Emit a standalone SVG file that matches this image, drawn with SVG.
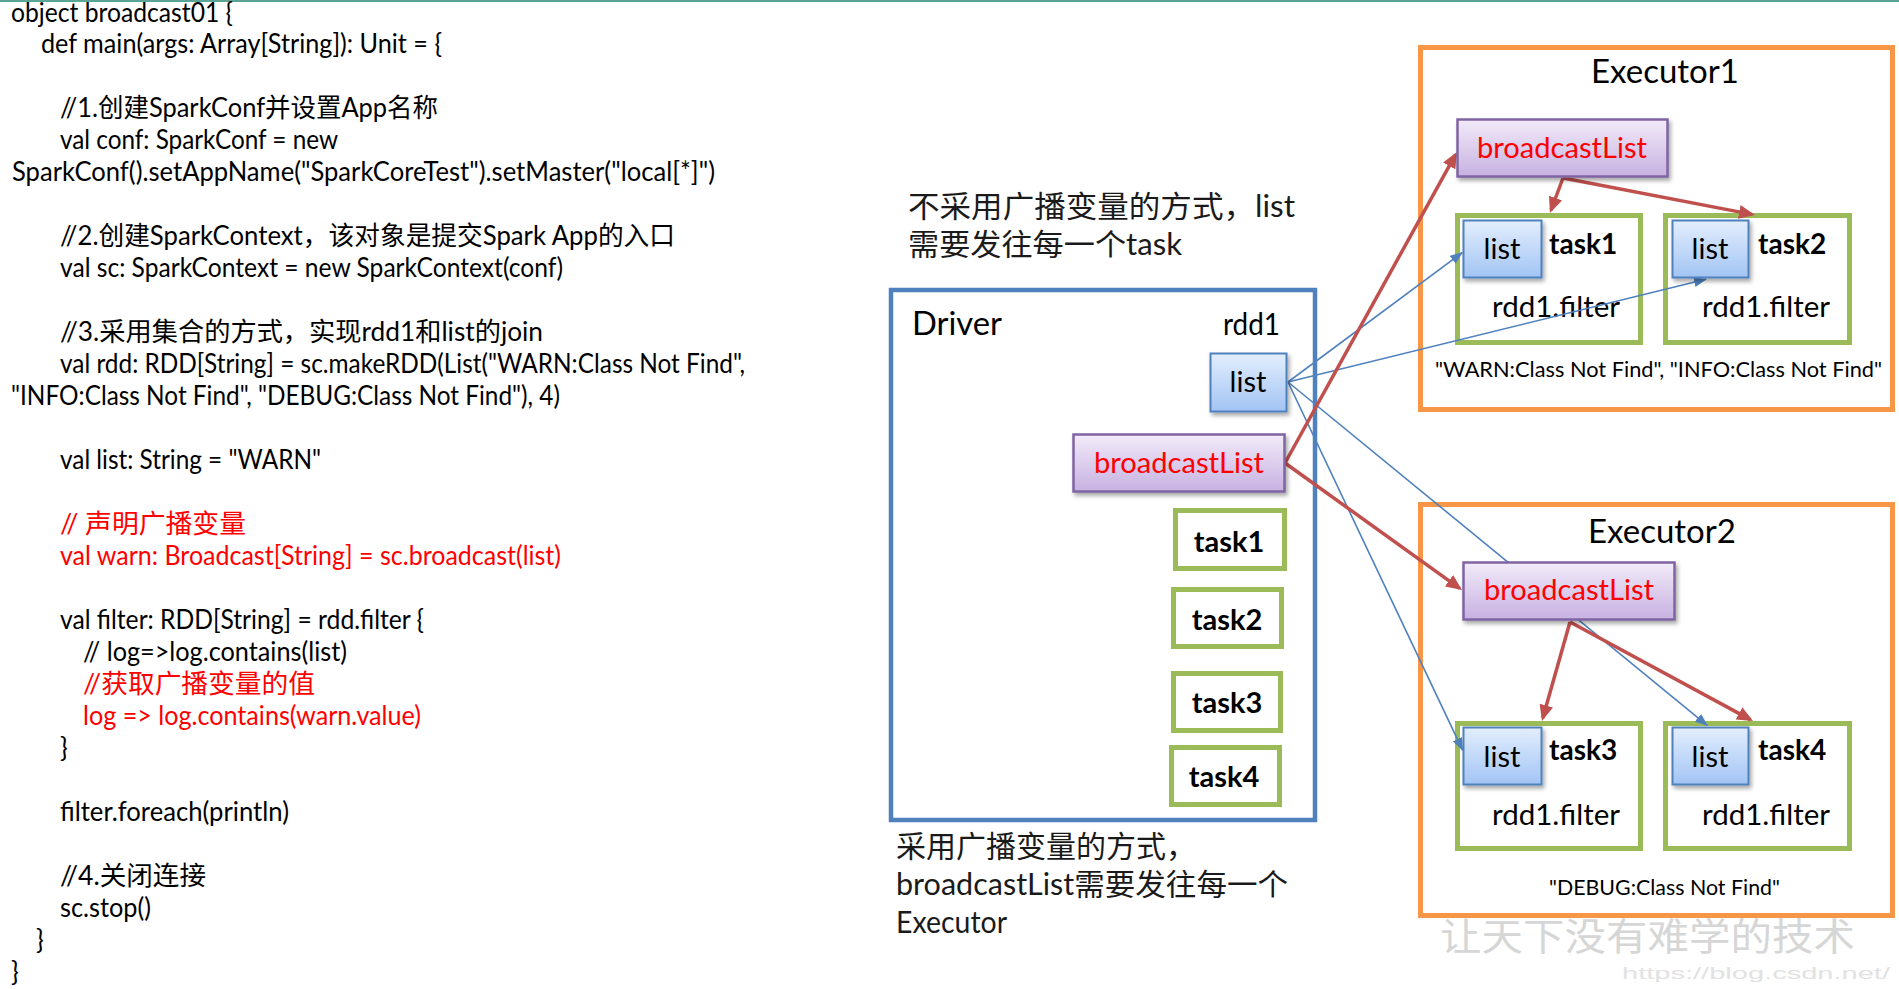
<svg xmlns="http://www.w3.org/2000/svg" width="1899" height="989" viewBox="0 0 1899 989">
<style>
.code{font-family:Lato,"Noto Sans CJK SC",sans-serif;font-size:26px;fill:#000}
.t{font-family:Lato,"Noto Sans CJK SC",sans-serif;fill:#000}
.red{fill:#ff0000}
.note{font-family:Lato,"Noto Sans CJK SC",sans-serif;font-size:30px;fill:#1a1a1a}
.drv{fill:none;stroke:#4F81BD;stroke-width:4.5}
.exe{fill:none;stroke:#F79646;stroke-width:5}
.task{fill:#fff;stroke:#9BBB59;stroke-width:5}
.list{fill:url(#gList);stroke:#4F81BD;stroke-width:2;filter:url(#sh)}
.bc{fill:url(#gBc);stroke:#8064A2;stroke-width:2.5;filter:url(#sh)}
.rl{fill:none;stroke:#C0504D;stroke-width:3.5;marker-end:url(#aR)}
.bl{fill:none;stroke:#4F81BD;stroke-width:1.6;marker-end:url(#aB)}
</style>
<defs>
<linearGradient id="gList" x1="0" y1="0" x2="0" y2="1"><stop offset="0" stop-color="#e3eefd"/><stop offset="1" stop-color="#a2c4f4"/></linearGradient>
<linearGradient id="gBc" x1="0" y1="0" x2="0" y2="1"><stop offset="0" stop-color="#f2ebf9"/><stop offset="1" stop-color="#c7b1e1"/></linearGradient>
<filter id="sh" x="-10%" y="-20%" width="130%" height="150%"><feDropShadow dx="2" dy="3" stdDeviation="2" flood-color="#000" flood-opacity="0.35"/></filter>
<marker id="aR" viewBox="0 0 16 14" refX="13" refY="7" markerWidth="16" markerHeight="14" markerUnits="userSpaceOnUse" orient="auto"><path d="M0,0 L16,7 L0,14 Z" fill="#C0504D"/></marker>
<marker id="aB" viewBox="0 0 13 10" refX="12" refY="5" markerWidth="13" markerHeight="10" markerUnits="userSpaceOnUse" orient="auto"><path d="M0,0 L13,5 L0,10 Z" fill="#4F81BD"/></marker>
</defs>
<rect x="0" y="0" width="1899" height="989" fill="#fff"/>
<rect x="0" y="0" width="1899" height="2" fill="#5ba596"/>

<g id="code">
<text class="code" x="11" y="22" textLength="222" lengthAdjust="spacingAndGlyphs">object broadcast01 {</text>
<text class="code" x="41" y="53" textLength="401" lengthAdjust="spacingAndGlyphs">def main(args: Array[String]): Unit = {</text>
<text class="code" x="60" y="117" textLength="378" lengthAdjust="spacingAndGlyphs">//1.创建SparkConf并设置App名称</text>
<text class="code" x="60" y="149" textLength="278" lengthAdjust="spacingAndGlyphs">val conf: SparkConf = new</text>
<text class="code" x="12" y="181" textLength="703" lengthAdjust="spacingAndGlyphs">SparkConf().setAppName("SparkCoreTest").setMaster("local[*]")</text>
<text class="code" x="60" y="245" textLength="615" lengthAdjust="spacingAndGlyphs">//2.创建SparkContext，该对象是提交Spark App的入口</text>
<text class="code" x="60" y="277" textLength="503" lengthAdjust="spacingAndGlyphs">val sc: SparkContext = new SparkContext(conf)</text>
<text class="code" x="60" y="341" textLength="483" lengthAdjust="spacingAndGlyphs">//3.采用集合的方式，实现rdd1和list的join</text>
<text class="code" x="60" y="373" textLength="685" lengthAdjust="spacingAndGlyphs">val rdd: RDD[String] = sc.makeRDD(List("WARN:Class Not Find",</text>
<text class="code" x="11" y="405" textLength="549" lengthAdjust="spacingAndGlyphs">"INFO:Class Not Find", "DEBUG:Class Not Find"), 4)</text>
<text class="code" x="60" y="469" textLength="261" lengthAdjust="spacingAndGlyphs">val list: String = "WARN"</text>
<text class="code red" x="60" y="533" textLength="186" lengthAdjust="spacingAndGlyphs">// 声明广播变量</text>
<text class="code red" x="60" y="565" textLength="501" lengthAdjust="spacingAndGlyphs">val warn: Broadcast[String] = sc.broadcast(list)</text>
<text class="code" x="60" y="629" textLength="364" lengthAdjust="spacingAndGlyphs">val filter: RDD[String] = rdd.filter {</text>
<text class="code" x="83" y="661" textLength="264" lengthAdjust="spacingAndGlyphs">// log=&gt;log.contains(list)</text>
<text class="code red" x="83" y="693" textLength="232" lengthAdjust="spacingAndGlyphs">//获取广播变量的值</text>
<text class="code red" x="83" y="725" textLength="338" lengthAdjust="spacingAndGlyphs">log =&gt; log.contains(warn.value)</text>
<text class="code" x="60" y="757">}</text>
<text class="code" x="60" y="821" textLength="229" lengthAdjust="spacingAndGlyphs">filter.foreach(println)</text>
<text class="code" x="60" y="885" textLength="146" lengthAdjust="spacingAndGlyphs">//4.关闭连接</text>
<text class="code" x="60" y="917" textLength="91" lengthAdjust="spacingAndGlyphs">sc.stop()</text>
<text class="code" x="36" y="949">}</text>
<text class="code" x="11" y="981">}</text>
</g>

<g id="notes">
<text class="note" x="908" y="217" font-size="31" textLength="387" lengthAdjust="spacingAndGlyphs">不采用广播变量的方式，list</text>
<text class="note" x="908" y="255" font-size="31" textLength="274" lengthAdjust="spacingAndGlyphs">需要发往每一个task</text>
<text class="note" x="896" y="857" textLength="300" lengthAdjust="spacingAndGlyphs">采用广播变量的方式，</text>
<text class="note" x="896" y="895" textLength="392" lengthAdjust="spacingAndGlyphs">broadcastList需要发往每一个</text>
<text class="note" x="896" y="933" textLength="111" lengthAdjust="spacingAndGlyphs">Executor</text>
</g>

<g id="driver">
<rect class="drv" x="891" y="290" width="424" height="530"/>
<text class="t" x="912" y="335" font-size="32" textLength="90" lengthAdjust="spacingAndGlyphs">Driver</text>
<text class="t" x="1223" y="335" font-size="30" textLength="57" lengthAdjust="spacingAndGlyphs">rdd1</text>
</g>
<g id="driver-task1"><rect class="task" x="1175.5" y="510.5" width="109" height="58"/><text class="t" x="1229" y="552" font-size="29" font-weight="bold" text-anchor="middle">task1</text></g>
<g id="driver-task2"><rect class="task" x="1173.5" y="589.5" width="108" height="57"/><text class="t" x="1227" y="630" font-size="29" font-weight="bold" text-anchor="middle">task2</text></g>
<g id="driver-task3"><rect class="task" x="1173.5" y="673.5" width="107" height="57"/><text class="t" x="1227" y="713" font-size="29" font-weight="bold" text-anchor="middle">task3</text></g>
<g id="driver-task4"><rect class="task" x="1171.5" y="747.5" width="108" height="57"/><text class="t" x="1224" y="787" font-size="29" font-weight="bold" text-anchor="middle">task4</text></g>

<g id="executor1">
<rect class="exe" x="1420.5" y="47.5" width="472" height="362"/>
<text class="t" x="1665" y="83" font-size="33" text-anchor="middle" textLength="148" lengthAdjust="spacingAndGlyphs">Executor1</text>
<text class="t" x="1435" y="377" font-size="22" textLength="447" lengthAdjust="spacingAndGlyphs">"WARN:Class Not Find", "INFO:Class Not Find"</text>
</g>
<g id="e1-task1"><rect class="task" x="1457.5" y="215.5" width="183" height="127"/><text class="t" x="1549" y="254" font-size="28" font-weight="bold">task1</text><text class="t" x="1492" y="317" font-size="29" textLength="128" lengthAdjust="spacingAndGlyphs">rdd1.filter</text></g>
<g id="e1-task2"><rect class="task" x="1665.5" y="215.5" width="184" height="127"/><text class="t" x="1758" y="254" font-size="28" font-weight="bold">task2</text><text class="t" x="1702" y="317" font-size="29" textLength="128" lengthAdjust="spacingAndGlyphs">rdd1.filter</text></g>

<g id="executor2">
<rect class="exe" x="1420.5" y="504.5" width="472" height="411"/>
<text class="t" x="1662" y="543" font-size="33" text-anchor="middle" textLength="148" lengthAdjust="spacingAndGlyphs">Executor2</text>
<text class="t" x="1549" y="895" font-size="22" textLength="231" lengthAdjust="spacingAndGlyphs">"DEBUG:Class Not Find"</text>
</g>
<g id="e2-task3"><rect class="task" x="1457.5" y="723.5" width="183" height="125"/><text class="t" x="1549" y="760" font-size="28" font-weight="bold">task3</text><text class="t" x="1492" y="825" font-size="29" textLength="128" lengthAdjust="spacingAndGlyphs">rdd1.filter</text></g>
<g id="e2-task4"><rect class="task" x="1665.5" y="723.5" width="184" height="125"/><text class="t" x="1758" y="760" font-size="28" font-weight="bold">task4</text><text class="t" x="1702" y="825" font-size="29" textLength="128" lengthAdjust="spacingAndGlyphs">rdd1.filter</text></g>

<g id="connectors">
<path class="bl" d="M1288,382 L1462.2,252.6"/>
<path class="bl" d="M1288,382 L1706,279.2"/>
<path class="bl" d="M1288,382 L1707.2,725.4"/>
<path class="bl" d="M1288,382 L1462.6,750.1"/>
<path class="rl" d="M1285,463 L1455.5,154.6"/>
<path class="rl" d="M1285,463 L1459.6,588.3"/>
<path class="rl" d="M1563,178 L1551,210.2"/>
<path class="rl" d="M1563,178 L1752,214.4"/>
<path class="rl" d="M1570,622 L1542.8,718.1"/>
<path class="rl" d="M1570,622 L1750.4,719.6"/>
</g>

<g id="driver-list"><rect class="list" x="1210.5" y="353.5" width="76" height="58"/><text class="t" x="1248" y="392" font-size="29" text-anchor="middle">list</text></g>
<g id="driver-broadcastList"><rect class="bc" x="1073.5" y="434.5" width="211" height="57"/><text class="t red" x="1179" y="473" font-size="29" text-anchor="middle" textLength="170" lengthAdjust="spacingAndGlyphs">broadcastList</text></g>
<g id="e1-broadcastList"><rect class="bc" x="1457.5" y="119.5" width="210" height="57"/><text class="t red" x="1562" y="158" font-size="29" text-anchor="middle" textLength="170" lengthAdjust="spacingAndGlyphs">broadcastList</text></g>
<g id="e1-list1"><rect class="list" x="1463.5" y="220.5" width="78" height="57"/><text class="t" x="1502" y="259" font-size="29" text-anchor="middle">list</text></g>
<g id="e1-list2"><rect class="list" x="1672.5" y="220.5" width="76" height="57"/><text class="t" x="1710" y="259" font-size="29" text-anchor="middle">list</text></g>
<g id="e2-broadcastList"><rect class="bc" x="1463.5" y="562.5" width="211" height="57"/><text class="t red" x="1569" y="600" font-size="29" text-anchor="middle" textLength="170" lengthAdjust="spacingAndGlyphs">broadcastList</text></g>
<g id="e2-list3"><rect class="list" x="1463.5" y="727.5" width="78" height="57"/><text class="t" x="1502" y="767" font-size="29" text-anchor="middle">list</text></g>
<g id="e2-list4"><rect class="list" x="1672.5" y="727.5" width="76" height="57"/><text class="t" x="1710" y="767" font-size="29" text-anchor="middle">list</text></g>

<g id="watermark">
<text x="1440" y="950" font-family="'Noto Sans CJK SC',sans-serif" font-size="38" fill="#d6d6d6" textLength="415" lengthAdjust="spacingAndGlyphs">让天下没有难学的技术</text>
<text x="1622" y="979" font-family="'Liberation Sans',sans-serif" font-size="16" fill="#e2e2e2" textLength="268" lengthAdjust="spacingAndGlyphs">https://blog.csdn.net/</text>
</g>
</svg>
